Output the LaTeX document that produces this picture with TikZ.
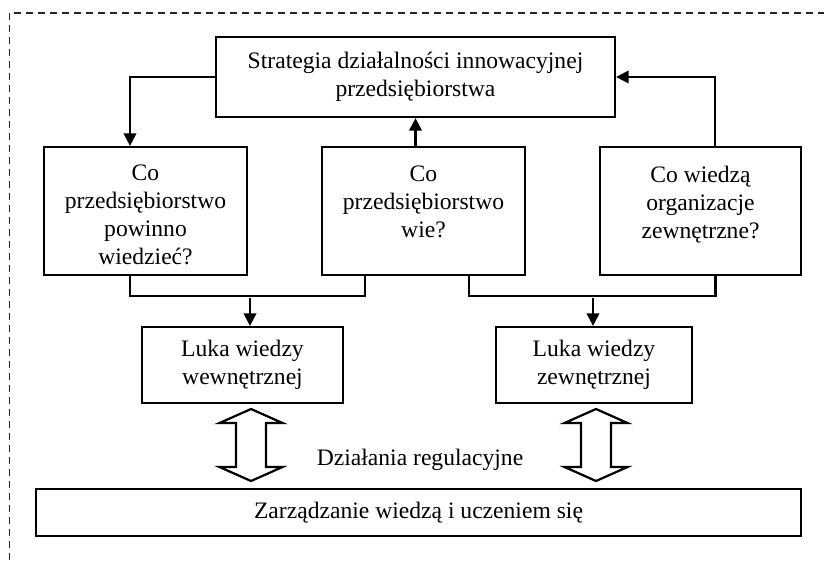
\documentclass[tikz,border=0pt]{standalone}
\usepackage{fontspec}
\setmainfont{Liberation Serif}
\usetikzlibrary{arrows.meta,calc}

\tikzset{
  box/.style={draw=black, line width=2.2pt, inner sep=0pt, align=center,
              font=\fontsize{23.6}{28}\selectfont},
  txt/.style={inner sep=0pt, align=center, font=\fontsize{23.6}{28}\selectfont},
  conn/.style={draw=black, line width=2.1pt},
  arr/.style={conn, -{Triangle[length=12.5pt,width=12.5pt]}},
  frame/.style={draw=black!85, line width=1.6pt, dash pattern=on 7pt off 5pt},
  dblarrow/.style={draw=black, line width=2.2pt, line join=miter, fill=white}
}

\begin{document}
\begin{tikzpicture}[x=1pt,y=-1pt]
  \useasboundingbox (0,0) rectangle (824,560);
  \clip (0,0) rectangle (824,560);

  % dashed outer frame (runs off the right and bottom edges)
  \draw[frame] (9.5,13) rectangle (840,580);

  % strategy box
  \node[box, minimum width=399, minimum height=80] (top) at (415.5,77)
    {Strategia działalności innowacyjnej\\przedsiębiorstwa};

  % three question boxes
  \node[box, minimum width=203, minimum height=128] (q1) at (145.5,211) {};
  \node[box, minimum width=203, minimum height=128] (q2) at (423.5,211) {};
  \node[box, minimum width=201, minimum height=128] (q3) at (700.5,211) {};
  \node[txt, anchor=north] (q1t) at ($(q1.north)+(0,19)$)
    {Co\\przedsiębiorstwo\\powinno\\wiedzieć?};
  \node[txt, anchor=north] (q2t) at ($(q2.north)+(0,20)$)
    {Co\\przedsiębiorstwo\\wie?};
  \node[txt, anchor=north] (q3t) at ($(q3.north)+(0,20)$)
    {Co wiedzą\\organizacje\\zewnętrzne?};

  % knowledge gap boxes
  \node[box, minimum width=201, minimum height=76] (l1) at (242.5,365)
    {Luka wiedzy\\wewnętrznej};
  \node[box, minimum width=196, minimum height=76] (l2) at (594,365)
    {Luka wiedzy\\zewnętrznej};

  % knowledge management box
  \node[box, minimum width=765, minimum height=47] (km) at (418.5,512.5)
    {Zarządzanie wiedzą i uczeniem się};

  \node[txt] (reg) at (420,460) {Działania regulacyjne};

  % strategy <-> question boxes
  \draw[arr] (top.west) -| ([xshift=-15.5]q1.north);
  \draw[arr] (q2.north -| top.south) -- (top.south);
  \draw[arr] ([xshift=14.5]q3.north) |- (top.east);

  % brackets joining the question boxes
  \draw[conn] ([xshift=-15.5]q1.south) -- ++(0,20) -| ([xshift=-58.5]q2.south);
  \draw[conn] ([xshift=45.5]q2.south) -- ++(0,20) -| ([xshift=15]q3.south);
  \coordinate (b1) at (250,295);
  \coordinate (b2) at (593,295);
  \draw[arr] ([yshift=-3pt]b1) -- (b1 |- l1.north);
  \draw[arr] ([yshift=-3pt]b2) -- (b2 |- l2.north);

  % hollow double arrows between the gap boxes and knowledge management
  \coordinate (d1) at (251,409);
  \coordinate (d2) at (596,409);
  \foreach \c in {d1,d2}{
    \draw[dblarrow] (\c) -- ++(31.5,14) -- ++(-16.5,0) -- ++(0,44)
      -- ++(16.5,0) -- ++(-31.5,14) -- ++(-31.5,-14) -- ++(16.5,0)
      -- ++(0,-44) -- ++(-16.5,0) -- cycle;
  }
\end{tikzpicture}
\end{document}
